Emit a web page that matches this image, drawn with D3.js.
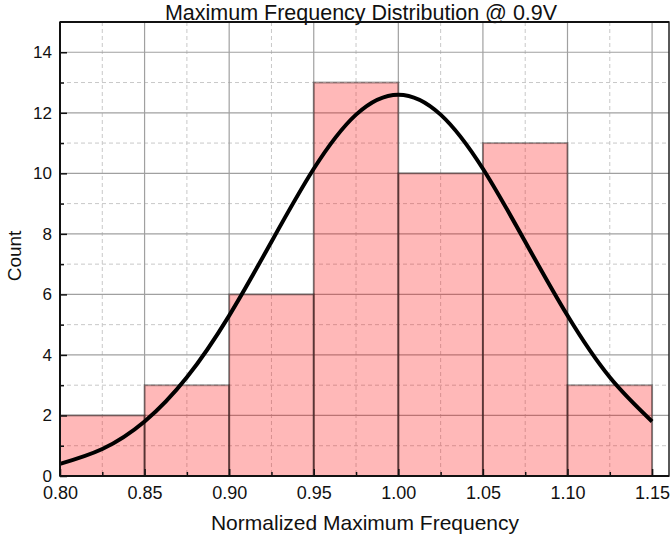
<html>
<head>
  <meta charset="UTF-8">
  <title>Maximum Frequency Distribution</title>
  <script src="https://d3js.org/d3.v7.min.js"></script>
  <style>
    body { margin: 0; background: white; }
    text { font-family: "Liberation Sans", Arial, sans-serif; fill: #111; }
  </style>
</head>
<body>
<svg id="chart"></svg>
<script>
  // histogram bins (left edge) and counts
  let binStarts = [0.80, 0.85, 0.90, 0.95, 1.00, 1.05, 1.10];
  let binWidth = 0.05;
  let counts = [2, 3, 6, 13, 10, 11, 3];

  // fitted curve
  let curveX = [0.800, 0.825, 0.850, 0.875, 0.900, 0.925, 0.950, 0.975, 1.000,
                1.025, 1.050, 1.075, 1.100, 1.125, 1.150];
  let curveY = [0.40, 0.89, 1.80, 3.26, 5.30, 7.74, 10.15, 11.94, 12.60,
                11.94, 10.15, 7.74, 5.30, 3.26, 1.80];

  let xTicks = [0.80, 0.85, 0.90, 0.95, 1.00, 1.05, 1.10, 1.15];
  let yTicks = [0, 2, 4, 6, 8, 10, 12, 14];

  let width = 670, height = 541;
  let pLeft = 60, pRight = 669, pTop = 22, pBottom = 476;

  let svg = d3.select("#chart").attr("width", width).attr("height", height);

  let x = d3.scaleLinear().domain([0.80, 1.16]).range([pLeft, pRight]);
  let y = d3.scaleLinear().domain([0, 15]).range([pBottom, pTop]);

  let xMinor = d3.range(0.825, 1.16, 0.05);
  let yMinor = d3.range(1, 15, 2);

  // grid
  let grid = svg.append("g");
  grid.selectAll(".vminor").data(xMinor).join("line")
      .attr("x1", d => x(d)).attr("x2", d => x(d)).attr("y1", pTop).attr("y2", pBottom)
      .attr("stroke", "#c8c8c8").attr("stroke-dasharray", "4,3");
  grid.selectAll(".hminor").data(yMinor).join("line")
      .attr("x1", pLeft).attr("x2", pRight).attr("y1", d => y(d)).attr("y2", d => y(d))
      .attr("stroke", "#c8c8c8").attr("stroke-dasharray", "4,3");
  grid.selectAll(".vmajor").data(xTicks.slice(1)).join("line")
      .attr("x1", d => x(d)).attr("x2", d => x(d)).attr("y1", pTop).attr("y2", pBottom)
      .attr("stroke", "#a0a0a0").attr("stroke-width", 1.2);
  grid.selectAll(".hmajor").data(yTicks.slice(1)).join("line")
      .attr("x1", pLeft).attr("x2", pRight).attr("y1", d => y(d)).attr("y2", d => y(d))
      .attr("stroke", "#a0a0a0").attr("stroke-width", 1.2);

  // bars
  svg.append("g").selectAll("rect").data(counts).join("rect")
      .attr("x", (d, i) => x(binStarts[i]))
      .attr("width", (d, i) => x(binStarts[i] + binWidth) - x(binStarts[i]))
      .attr("y", d => y(d))
      .attr("height", d => y(0) - y(d))
      .attr("fill", "rgba(255,0,0,0.28)")
      .attr("stroke", "rgba(0,0,0,0.35)")
      .attr("stroke-width", 2);

  // fitted curve
  let line = d3.line().x((d, i) => x(curveX[i])).y(d => y(d)).curve(d3.curveNatural);
  svg.append("path").datum(curveY)
      .attr("d", line)
      .attr("fill", "none")
      .attr("stroke", "black")
      .attr("stroke-width", 4);

  // frame
  svg.append("rect").attr("x", pLeft).attr("y", pTop)
      .attr("width", pRight - pLeft).attr("height", pBottom - pTop)
      .attr("fill", "none").attr("stroke", "#222").attr("stroke-width", 1.5);
  svg.append("line").attr("x1", pLeft).attr("x2", pLeft).attr("y1", pTop).attr("y2", pBottom)
      .attr("stroke", "#111").attr("stroke-width", 2);
  svg.append("line").attr("x1", pLeft).attr("x2", pRight).attr("y1", pBottom).attr("y2", pBottom)
      .attr("stroke", "#111").attr("stroke-width", 2);
  svg.append("line").attr("x1", pLeft).attr("x2", pRight).attr("y1", pTop).attr("y2", pTop)
      .attr("stroke", "#111").attr("stroke-width", 2);

  // axes with inward ticks
  let xAxis = d3.axisBottom(x).tickValues(xTicks).tickFormat(d3.format(".2f"))
      .tickSizeInner(-7).tickSizeOuter(0).tickPadding(10);
  let gx = svg.append("g").attr("transform", `translate(0,${pBottom})`).call(xAxis);
  gx.select(".domain").remove();
  gx.selectAll("line").attr("stroke", "#111").attr("stroke-width", 1.5);
  gx.selectAll("text").attr("font-size", 18).attr("font-family", "Liberation Sans, Arial, sans-serif");

  let xMinorAxis = d3.axisBottom(x).tickValues(xMinor).tickFormat("")
      .tickSizeInner(-4).tickSizeOuter(0);
  let gxm = svg.append("g").attr("transform", `translate(0,${pBottom})`).call(xMinorAxis);
  gxm.select(".domain").remove();
  gxm.selectAll("line").attr("stroke", "#111").attr("stroke-width", 1.5);

  let yAxis = d3.axisLeft(y).tickValues(yTicks)
      .tickSizeInner(-7).tickSizeOuter(0).tickPadding(8);
  let gy = svg.append("g").attr("transform", `translate(${pLeft},0)`).call(yAxis);
  gy.select(".domain").remove();
  gy.selectAll("line").attr("stroke", "#111").attr("stroke-width", 1.5);
  gy.selectAll("text").attr("font-size", 17).attr("font-family", "Liberation Sans, Arial, sans-serif");

  let yMinorAxis = d3.axisLeft(y).tickValues(yMinor).tickFormat("")
      .tickSizeInner(-4).tickSizeOuter(0);
  let gym = svg.append("g").attr("transform", `translate(${pLeft},0)`).call(yMinorAxis);
  gym.select(".domain").remove();
  gym.selectAll("line").attr("stroke", "#111").attr("stroke-width", 1.5);

  // titles
  svg.append("text").attr("x", 361).attr("y", 20).attr("text-anchor", "middle")
      .attr("font-size", 21.5).text("Maximum Frequency Distribution @ 0.9V");
  svg.append("text").attr("x", 365).attr("y", 530).attr("text-anchor", "middle")
      .attr("font-size", 21).text("Normalized Maximum Frequency");
  svg.append("text").attr("transform", "translate(21,256) rotate(-90)")
      .attr("text-anchor", "middle").attr("font-size", 19).text("Count");
</script>
</body>
</html>
